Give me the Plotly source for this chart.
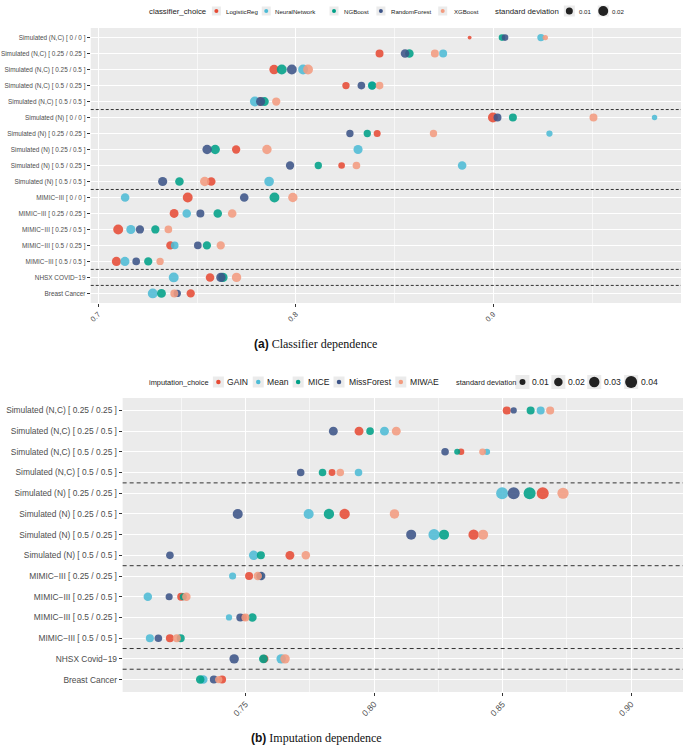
import math
import plotly.graph_objects as go

W, H = 683, 746

# ---------------- Panel (a): classifier dependence ----------------
A_ROWS = [
    "Simulated (N,C) [ 0 / 0 ]",
    "Simulated (N,C) [ 0.25 / 0.25 ]",
    "Simulated (N,C) [ 0.25 / 0.5 ]",
    "Simulated (N,C) [ 0.5 / 0.25 ]",
    "Simulated (N,C) [ 0.5 / 0.5 ]",
    "Simulated (N) [ 0 / 0 ]",
    "Simulated (N) [ 0.25 / 0.25 ]",
    "Simulated (N) [ 0.25 / 0.5 ]",
    "Simulated (N) [ 0.5 / 0.25 ]",
    "Simulated (N) [ 0.5 / 0.5 ]",
    "MIMIC\u2212III [ 0 / 0 ]",
    "MIMIC\u2212III [ 0.25 / 0.25 ]",
    "MIMIC\u2212III [ 0.25 / 0.5 ]",
    "MIMIC\u2212III [ 0.5 / 0.25 ]",
    "MIMIC\u2212III [ 0.5 / 0.5 ]",
    "NHSX COVID\u221219",
    "Breast Cancer",
]
A_METHODS = ["LogisticReg", "NeuralNetwork", "NGBoost", "RandomForest", "XGBoost"]

A_LOGREG = [0.888, 0.8424, 0.789, 0.8254, 0.782, 0.8998, 0.8412, 0.7698, 0.8232, 0.7572,
            0.7453, 0.7384, 0.7101, 0.7365, 0.7092, 0.7566, 0.7468]
A_NN = [0.9241, 0.8746, 0.8037, 0.8385, 0.7793, 0.9816, 0.9284, 0.8315, 0.8842, 0.7865,
        0.7136, 0.7448, 0.7165, 0.7387, 0.7135, 0.7382, 0.7276]
A_NGB = [0.9044, 0.8575, 0.7929, 0.8387, 0.7841, 0.9099, 0.8362, 0.7592, 0.8114, 0.7411,
         0.7892, 0.7605, 0.7289, 0.755, 0.7253, 0.7631, 0.732]
A_RF = [0.9059, 0.8553, 0.798, 0.8332, 0.7822, 0.9021, 0.8274, 0.7551, 0.7971, 0.7326,
        0.7739, 0.7517, 0.7211, 0.7504, 0.7192, 0.7621, 0.74]
A_XGB = [0.9263, 0.8704, 0.8062, 0.8424, 0.7901, 0.9507, 0.8697, 0.7854, 0.8307, 0.7539,
         0.7985, 0.7678, 0.7355, 0.762, 0.7313, 0.77, 0.7385]

A_LOGREG_SD = [0.003, 0.013, 0.018, 0.011, 0.015, 0.02, 0.01, 0.014, 0.009, 0.015,
               0.02, 0.016, 0.02, 0.014, 0.017, 0.015, 0.014]
A_NN_SD = [0.011, 0.013, 0.02, 0.013, 0.02, 0.006, 0.008, 0.017, 0.015, 0.019,
           0.015, 0.015, 0.017, 0.012, 0.017, 0.02, 0.02]
A_NGB_SD = [0.009, 0.015, 0.02, 0.014, 0.016, 0.013, 0.011, 0.018, 0.011, 0.015,
            0.02, 0.015, 0.014, 0.014, 0.014, 0.018, 0.016]
A_RF_SD = [0.009, 0.015, 0.02, 0.012, 0.017, 0.013, 0.011, 0.018, 0.014, 0.017,
           0.015, 0.013, 0.014, 0.012, 0.012, 0.018, 0.011]
A_XGB_SD = [0.006, 0.013, 0.02, 0.012, 0.014, 0.013, 0.011, 0.018, 0.012, 0.018,
            0.018, 0.015, 0.012, 0.014, 0.011, 0.018, 0.013]

A_X_TICKS = [0.7, 0.8, 0.9]
A_SD_TICKS = [0.01, 0.02]

# ---------------- Panel (b): imputation dependence ----------------
B_ROWS = [
    "Simulated (N,C) [ 0.25 / 0.25 ]",
    "Simulated (N,C) [ 0.25 / 0.5 ]",
    "Simulated (N,C) [ 0.5 / 0.25 ]",
    "Simulated (N,C) [ 0.5 / 0.5 ]",
    "Simulated (N) [ 0.25 / 0.25 ]",
    "Simulated (N) [ 0.25 / 0.5 ]",
    "Simulated (N) [ 0.5 / 0.25 ]",
    "Simulated (N) [ 0.5 / 0.5 ]",
    "MIMIC\u2212III [ 0.25 / 0.25 ]",
    "MIMIC\u2212III [ 0.25 / 0.5 ]",
    "MIMIC\u2212III [ 0.5 / 0.25 ]",
    "MIMIC\u2212III [ 0.5 / 0.5 ]",
    "NHSX Covid\u221219",
    "Breast Cancer",
]
B_METHODS = ["GAIN", "Mean", "MICE", "MissForest", "MIWAE"]

B_GAIN = [0.8516, 0.7941, 0.8338, 0.7836, 0.8656, 0.7885, 0.8387, 0.7672, 0.7513, 0.7249,
          0.7491, 0.7205, 0.7572, 0.7408]
B_MEAN = [0.8648, 0.804, 0.8439, 0.7939, 0.8498, 0.7745, 0.8233, 0.7531, 0.7449, 0.7119,
          0.7435, 0.7127, 0.7638, 0.7335]
B_MICE = [0.8609, 0.7984, 0.8323, 0.7799, 0.8605, 0.7824, 0.8272, 0.7559, 0.7555, 0.7257,
          0.7526, 0.7247, 0.7569, 0.7323]
B_MISSFOREST = [0.8543, 0.7841, 0.8276, 0.7714, 0.8543, 0.7469, 0.8144, 0.7205, 0.756, 0.7202,
                0.7479, 0.716, 0.7455, 0.7376]
B_MIWAE = [0.8685, 0.8086, 0.8422, 0.7868, 0.8735, 0.8079, 0.8424, 0.7734, 0.7547, 0.7269,
           0.7499, 0.7232, 0.7653, 0.7395]

B_GAIN_SD = [0.018, 0.022, 0.012, 0.013, 0.04, 0.03, 0.03, 0.022, 0.018, 0.018, 0.014, 0.018, 0.02, 0.018]
B_MEAN_SD = [0.018, 0.022, 0.011, 0.016, 0.04, 0.028, 0.035, 0.025, 0.014, 0.02, 0.011, 0.018, 0.025, 0.02]
B_MICE_SD = [0.018, 0.016, 0.01, 0.016, 0.04, 0.03, 0.028, 0.018, 0.015, 0.014, 0.02, 0.018, 0.022, 0.02]
B_MISSFOREST_SD = [0.011, 0.022, 0.016, 0.016, 0.04, 0.028, 0.028, 0.016, 0.02, 0.014, 0.018, 0.016, 0.025, 0.018]
B_MIWAE_SD = [0.018, 0.022, 0.013, 0.016, 0.035, 0.025, 0.028, 0.02, 0.02, 0.02, 0.018, 0.018, 0.025, 0.015]

B_X_TICKS = [0.75, 0.80, 0.85, 0.90]
B_SD_TICKS = [0.01, 0.02, 0.03, 0.04]

COLORS = ["#E64B35", "#4DBBD5", "#00A087", "#3C5488", "#F39B7F"]
FONT = "Liberation Sans, Arial, sans-serif"
TXT = "#4D4D4D"


def size_a(s):
    return 70 * math.sqrt(s)


def size_b(s):
    return 60 * math.sqrt(s)


def px_x(x):
    return x / W


def px_y(y):
    return 1 - y / H


fig = go.Figure()

A_VALUES = [A_LOGREG, A_NN, A_NGB, A_RF, A_XGB]
A_SDS = [A_LOGREG_SD, A_NN_SD, A_NGB_SD, A_RF_SD, A_XGB_SD]
for name, vals, sds, col in zip(A_METHODS, A_VALUES, A_SDS, COLORS):
    fig.add_trace(go.Scatter(
        x=vals, y=A_ROWS, mode="markers", name=name, showlegend=False,
        marker=dict(color=col, size=[size_a(s) for s in sds], opacity=0.88, line=dict(width=0)),
        xaxis="x", yaxis="y"))

B_VALUES = [B_GAIN, B_MEAN, B_MICE, B_MISSFOREST, B_MIWAE]
B_SDS = [B_GAIN_SD, B_MEAN_SD, B_MICE_SD, B_MISSFOREST_SD, B_MIWAE_SD]
for name, vals, sds, col in zip(B_METHODS, B_VALUES, B_SDS, COLORS):
    fig.add_trace(go.Scatter(
        x=vals, y=B_ROWS, mode="markers", name=name, showlegend=False,
        marker=dict(color=col, size=[size_b(s) for s in sds], opacity=0.88, line=dict(width=0)),
        xaxis="x2", yaxis="y2"))

# ---------------- Axes ----------------
A_DOM_X = [89 / W, 681 / W]
A_DOM_Y = [px_y(303), px_y(28)]
B_DOM_X = [121 / W, 1.0]
B_DOM_Y = [px_y(692), px_y(398)]

common_x = dict(showgrid=True, gridcolor="white", gridwidth=1, zeroline=False, showline=False,
                ticks="outside", ticklen=3, tickcolor="#333333", tickwidth=1, tickangle=-45)
common_y = dict(type="category", showgrid=True, gridcolor="white", gridwidth=1, zeroline=False,
                showline=False, ticks="outside", ticklen=3, tickcolor="#333333", tickwidth=1)

fig.update_layout(
    xaxis=dict(domain=A_DOM_X, anchor="y", range=[0.6962, 0.995], tickmode="array",
               tickvals=A_X_TICKS, ticktext=[f"{v:.1f}" for v in A_X_TICKS],
               tickfont=dict(size=7.5, color=TXT, family=FONT),
               minor=dict(dtick=0.05, tick0=0.7, showgrid=True, gridcolor="#F7F7F7", gridwidth=0.6),
               **common_x),
    yaxis=dict(domain=A_DOM_Y, anchor="x", categoryorder="array", categoryarray=A_ROWS,
               range=[len(A_ROWS) - 0.4, -0.6], tickfont=dict(size=6.4, color=TXT, family=FONT),
               **common_y),
    xaxis2=dict(domain=B_DOM_X, anchor="y2", range=[0.7021, 0.9202], tickmode="array",
                tickvals=B_X_TICKS, ticktext=[f"{v:.2f}" for v in B_X_TICKS],
                tickfont=dict(size=8.5, color=TXT, family=FONT),
                minor=dict(dtick=0.025, tick0=0.725, showgrid=True, gridcolor="#F7F7F7", gridwidth=0.6),
                **common_x),
    yaxis2=dict(domain=B_DOM_Y, anchor="x2", categoryorder="array", categoryarray=B_ROWS,
                range=[len(B_ROWS) - 0.4, -0.6], tickfont=dict(size=8.4, color=TXT, family=FONT),
                **common_y),
)

shapes = []
annotations = []


# dataset separators (dashed) between groups
def separators(rows, xref, yref, dash):
    groups = [r.split(" [")[0] for r in rows]
    out = []
    for i in range(len(groups) - 1):
        if groups[i] != groups[i + 1]:
            out.append(dict(type="line", xref=xref, yref=yref, x0=0, x1=1, y0=i + 0.5, y1=i + 0.5,
                            line=dict(color="#333333", width=1, dash=dash), layer="above"))
    return out


shapes += separators(A_ROWS, "x domain", "y", "3px,2px")
shapes += separators(B_ROWS, "x2 domain", "y2", "4px,3px")


# ---------------- Manual ggplot-style legends ----------------
def key_box(cx, cy, w, h):
    return dict(type="rect", xref="paper", yref="paper", xsizemode="pixel", ysizemode="pixel",
                xanchor=px_x(cx), yanchor=px_y(cy), x0=-w / 2, x1=w / 2, y0=-h / 2, y1=h / 2,
                fillcolor="#EBEBEB", line=dict(width=0), layer="below")


def dot(cx, cy, d, color):
    r = d / 2
    return dict(type="circle", xref="paper", yref="paper", xsizemode="pixel", ysizemode="pixel",
                xanchor=px_x(cx), yanchor=px_y(cy), x0=-r, x1=r, y0=-r, y1=r,
                fillcolor=color, line=dict(width=0), layer="above")


def label(x, y, text, size):
    return dict(x=px_x(x), y=px_y(y), xref="paper", yref="paper", text=text, showarrow=False,
                xanchor="left", yanchor="middle", borderpad=0,
                font=dict(size=size, color="#222222", family=FONT))


LEG_A = dict(y=11, title_x=146, dots=[215, 265, 333, 380, 442], labels=[224, 273, 342, 389, 452],
             sd_title_x=493, sd_dots=[569, 603], sd_labels=[578, 611],
             title_size=7.8, label_size=6.1, key=9, sd_key=11, dot=4)
LEG_B = dict(y=382, title_x=146, dots=[217, 257, 297, 338, 400], labels=[225, 265, 306, 347, 408],
             sd_title_x=454, sd_dots=[522, 558, 594, 631], sd_labels=[531, 567, 603, 640],
             title_size=7.4, label_size=8.6, key=11, sd_key=14, dot=4.5)


def draw_legend(L, title, methods, sd_ticks, size_fn):
    y = L["y"]
    annotations.append(label(L["title_x"], y, title, L["title_size"]))
    for cx, lx, m, c in zip(L["dots"], L["labels"], methods, COLORS):
        shapes.append(key_box(cx, y, L["key"], L["key"]))
        shapes.append(dot(cx, y, L["dot"], c))
        annotations.append(label(lx, y, m, L["label_size"]))
    annotations.append(label(L["sd_title_x"], y, "standard deviation", L["title_size"]))
    for cx, lx, v in zip(L["sd_dots"], L["sd_labels"], sd_ticks):
        shapes.append(key_box(cx, y, L["sd_key"], L["sd_key"]))
        shapes.append(dot(cx, y, size_fn(v), "#222222"))
        annotations.append(label(lx, y, f"{v:.2f}", L["label_size"]))


draw_legend(LEG_A, "classifier_choice", A_METHODS, A_SD_TICKS, size_a)
draw_legend(LEG_B, "imputation_choice", B_METHODS, B_SD_TICKS, size_b)

# captions
SERIF = "Liberation Serif, Times New Roman, serif"
annotations.append(dict(x=px_x(314), y=px_y(344), xref="paper", yref="paper", showarrow=False,
                        xanchor="center", yanchor="middle",
                        text="<span style='font-family:Liberation Sans'><b>(a)</b></span> Classifier dependence",
                        font=dict(size=12, color="#111111", family=SERIF)))
annotations.append(dict(x=px_x(315), y=px_y(738), xref="paper", yref="paper", showarrow=False,
                        xanchor="center", yanchor="middle",
                        text="<span style='font-family:Liberation Sans'><b>(b)</b></span> Imputation dependence",
                        font=dict(size=12, color="#111111", family=SERIF)))

fig.update_layout(
    width=W, height=H, margin=dict(l=0, r=0, t=0, b=0),
    paper_bgcolor="white", plot_bgcolor="#EBEBEB",
    font=dict(family=FONT, color=TXT),
    shapes=shapes, annotations=annotations, showlegend=False,
)

fig.write_html("out.html", config={"displayModeBar": False},
               post_script="document.body.style.margin='0px';")
